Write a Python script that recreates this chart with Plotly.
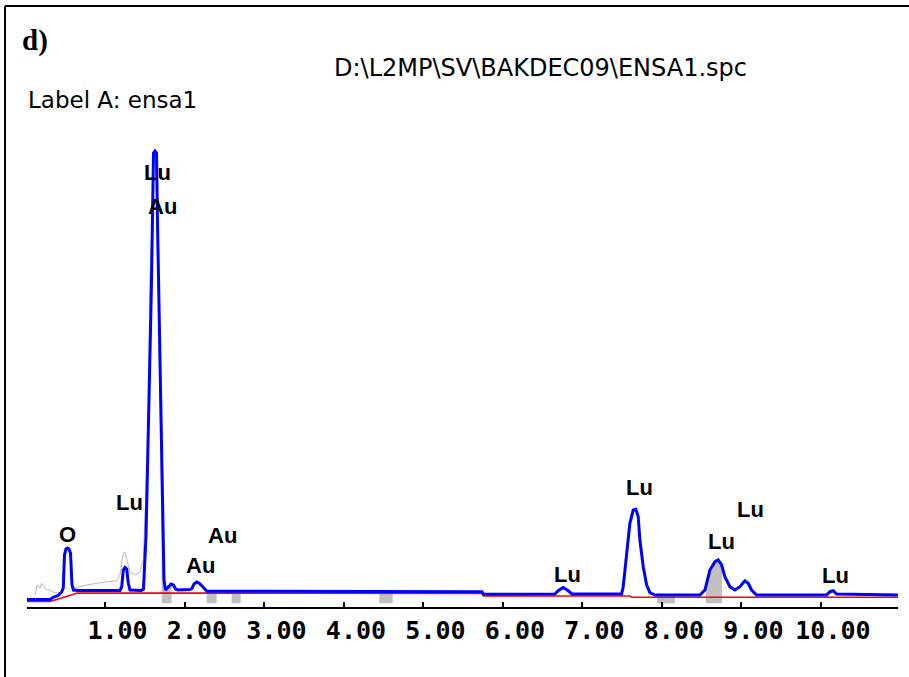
import numpy as np
import plotly.graph_objects as go

# ---------------- data (energy in keV, intensity in arbitrary counts) ----------------
spec_energy = [0.013, 0.302, 0.343, 0.403, 0.449, 0.469, 0.484, 0.503, 0.522, 0.541, 0.560, 0.579, 0.597,
               0.654, 1.182, 1.204, 1.224, 1.245, 1.267, 1.287, 1.308, 1.453, 1.478, 1.497, 1.509, 1.528,
               1.541, 1.566, 1.579, 1.591, 1.604, 1.623, 1.642, 1.654, 1.667, 1.686, 1.698, 1.711, 1.723,
               1.736, 1.755, 1.792, 1.824, 1.855, 1.881, 1.912, 2.063, 2.088, 2.113, 2.147, 2.176, 2.214,
               2.252, 2.277, 5.736, 5.755, 6.654, 6.698, 6.758, 6.818, 6.868, 7.493, 7.513, 7.556, 7.597,
               7.639, 7.673, 7.702, 7.723, 7.765, 7.808, 7.849, 7.912, 8.478, 8.541, 8.604, 8.667, 8.708,
               8.751, 8.792, 8.855, 8.918, 8.981, 9.044, 9.086, 9.128, 9.191, 10.072, 10.113, 10.155,
               10.197, 10.969]
spec_counts = [7.5, 7.5, 9.7, 11.5, 15, 19, 52, 58, 59, 58, 54, 22, 17,
               16.5, 16.5, 20, 37, 39.5, 38, 24, 17, 16.5, 18, 47, 70, 137,
               200, 277, 327, 407, 454, 456, 454, 387, 327, 257, 197, 137, 90,
               27, 17, 20, 23, 22, 18, 17, 17.5, 18.5, 23, 25, 24, 21,
               17.5, 15.7, 15.3, 12.7, 13, 16.5, 19.5, 16.5, 13, 13, 20.3, 50.3, 83.7,
               97, 97.7, 90.3, 67, 40.3, 22, 14.3, 12, 12, 17, 37, 45.3, 47,
               42, 30.3, 20.3, 17, 20.3, 26.3, 23.7, 17, 12, 12, 15.3, 16.3,
               13, 12]

ref_energy = [0.113, 0.142, 0.176, 0.197, 0.226, 0.260, 0.302, 0.340, 0.403, 0.453, 0.484, 0.522, 0.560,
              0.579, 0.616, 0.764, 0.889, 1.015, 1.141, 1.182, 1.224, 1.245, 1.267, 1.308, 1.371, 1.434,
              1.476, 1.491, 1.519, 1.539, 1.560, 1.582, 1.597, 1.623, 1.648, 1.664, 1.686, 1.707, 1.727,
              1.755]
ref_counts = [12, 22, 18.7, 23.7, 20.3, 17, 17, 15, 14, 15, 51, 58, 53,
              21, 19, 22, 23.7, 24.7, 26.3, 32, 53.7, 55, 47, 35, 32, 35,
              47, 77, 137, 187, 330, 374, 447, 452, 407, 317, 174, 87, 22,
              17]

bkg_energy = [0.013, 0.302, 0.428, 0.528, 0.642, 3.447, 5.736, 5.755, 7.597, 7.623, 10.969]
bkg_counts = [5.5, 5.5, 8.5, 11, 14, 13.8, 13.5, 11, 11, 9.7, 9.7]

roi_start = [1.707, 2.273, 2.587, 4.444, 7.937, 8.553]
roi_end = [1.833, 2.399, 2.701, 4.613, 8.164, 8.755]
roi_floor = 3.7

tick_values = [1, 2, 3, 4, 5, 6, 7, 8, 9, 10]
tick_labels = ["1.00", "2.00", "3.00", "4.00", "5.00", "6.00", "7.00", "8.00", "9.00", "10.00"]

peak_labels = ["Lu", "Au", "Lu", "O", "Au", "Au", "Lu", "Lu", "Lu", "Lu", "Lu"]
peak_label_energy = [1.648, 1.711, 1.308, 0.528, 2.478, 2.189, 6.818, 7.723, 9.119, 8.755, 10.189]
peak_label_height = [435, 401, 105, 73, 72, 42, 33, 120, 98, 66, 32]

title_text = "D:\\L2MP\\SV\\BAKDEC09\\ENSA1.spc"
label_text = "Label A: ensa1"
panel_text = "d)"

# ---------------- layout geometry (pixels) ----------------
W, H = 909, 677
PL, PR, PT, PB = 27, 898, 140, 607   # plot area edges in pixels
X_RANGE = [0.0126, 10.97]
Y_RANGE = [0, 467]


def px_x(px):
    return (px - PL) / (PR - PL)


def px_y(py):
    return (PB - py) / (PB - PT)


fig = go.Figure()

# ROI fills under the spectrum
e_arr = np.array(spec_energy)
c_arr = np.array(spec_counts)
for a, b in zip(roi_start, roi_end):
    inner = e_arr[(e_arr > a) & (e_arr < b)]
    xs = np.concatenate([[a], inner, [b]])
    ys = np.interp(xs, e_arr, c_arr)
    px = np.concatenate([[a], xs, [b], [a]])
    py = np.concatenate([[roi_floor], ys, [roi_floor], [roi_floor]])
    fig.add_trace(go.Scatter(x=px, y=py, mode="lines", fill="toself",
                             fillcolor="#c0c0c0", line=dict(width=0, color="#c0c0c0"),
                             hoverinfo="skip", showlegend=False))

# overlay (reference) spectrum in light gray
fig.add_trace(go.Scatter(x=ref_energy, y=ref_counts, mode="lines",
                         line=dict(color="#b8b8b8", width=1), showlegend=False))
# background
fig.add_trace(go.Scatter(x=bkg_energy, y=bkg_counts, mode="lines",
                         line=dict(color="#ff0000", width=1.6), showlegend=False))
# spectrum
fig.add_trace(go.Scatter(x=spec_energy, y=spec_counts, mode="lines",
                         line=dict(color="#0000ff", width=3), showlegend=False))

annotations = []
for t, e, h in zip(peak_labels, peak_label_energy, peak_label_height):
    annotations.append(dict(x=e, y=h, xref="x", yref="y", text=t, showarrow=False,
                            xanchor="center", yanchor="middle",
                            font=dict(family="Liberation Sans", size=22, color="black", weight="bold")))

annotations.append(dict(x=px_x(20), y=px_y(41), xref="paper", yref="paper", text=panel_text,
                        showarrow=False, xanchor="left", yanchor="middle",
                        font=dict(family="Liberation Serif", size=29, color="black", weight="bold")))
annotations.append(dict(x=px_x(540), y=px_y(68), xref="paper", yref="paper", text=title_text,
                        showarrow=False, xanchor="center", yanchor="middle",
                        font=dict(family="DejaVu Sans", size=24, color="black")))
annotations.append(dict(x=px_x(26), y=px_y(100), xref="paper", yref="paper", text=label_text,
                        showarrow=False, xanchor="left", yanchor="middle",
                        font=dict(family="DejaVu Sans", size=23, color="black")))

shapes = [
    dict(type="line", xref="paper", yref="paper", x0=px_x(5), y0=px_y(677), x1=px_x(5), y1=px_y(6),
         line=dict(color="black", width=2)),
    dict(type="line", xref="paper", yref="paper", x0=px_x(5), y0=px_y(6), x1=px_x(909), y1=px_y(6),
         line=dict(color="black", width=2)),
]

fig.update_layout(
    width=W, height=H,
    margin=dict(l=PL, r=W - PR, t=PT, b=H - PB, pad=0),
    paper_bgcolor="white", plot_bgcolor="white",
    showlegend=False,
    annotations=annotations,
    shapes=shapes,
    xaxis=dict(range=X_RANGE, showgrid=False, zeroline=False, showline=True,
               linecolor="black", linewidth=2, ticks="inside", ticklen=5, tickwidth=1.5,
               tickcolor="black", tickvals=tick_values, ticktext=tick_labels,
               tickfont=dict(family="DejaVu Sans Mono", size=25, color="black", weight="bold"),
               ticklabelshift=12, ticklabelstandoff=0, fixedrange=True),
    yaxis=dict(range=Y_RANGE, visible=False, showgrid=False, zeroline=False, fixedrange=True),
)

fig.write_html("out.html", config={"displayModeBar": False},
               post_script="document.body.style.margin='0';")
